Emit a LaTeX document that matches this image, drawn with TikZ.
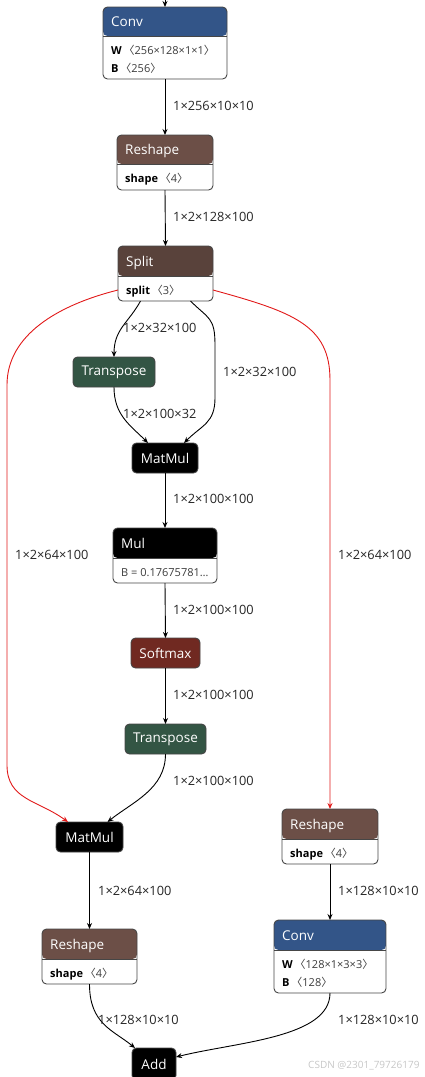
\documentclass[tikz,border=0pt]{standalone}
\usepackage{fontspec}
\setmainfont{Open Sans}
\newfontfamily\cjk{Noto Sans CJK SC}
\usetikzlibrary{arrows.meta,calc}
\definecolor{clayer}{RGB}{51,85,136}
\definecolor{cshape}{RGB}{108,79,71}
\definecolor{ctensor}{RGB}{89,66,59}
\definecolor{ctrans}{RGB}{51,85,68}
\definecolor{cact}{RGB}{112,41,33}
\definecolor{cline}{RGB}{70,70,70}
\definecolor{cred}{RGB}{225,25,25}
\definecolor{cval}{RGB}{60,60,60}
\newcommand\tfnt{\fontsize{13.5}{15}\selectfont}
\newcommand\lfnt{\fontsize{12.8}{14}\selectfont}
\newcommand\bfnt{\fontsize{11}{12}\selectfont}
\newcommand\lb{{\cjk 〈}}
\newcommand\rb{{\cjk 〉}}
\tikzset{
  box/.style={draw=cline, line width=0.9pt, rounded corners=4.5pt, inner sep=0pt, outer sep=0pt, anchor=north west},
  single/.style={box, text=white, font=\tfnt},
  edge/.style={line width=0.9pt, draw=black, -{Stealth[length=6pt,width=5pt]}},
  redge/.style={line width=0.9pt, draw=cred, -{Stealth[length=6pt,width=5pt]}},
  lab/.style={anchor=west, font=\lfnt, text=black!85, inner sep=0pt},
  btxt/.style={anchor=base west, inner sep=0pt, font=\bfnt, text=cval},
}
\newcommand\twobox[9]{%
  \node[box, fill=white, minimum width=#3pt, minimum height=#4pt,
    path picture={\fill[#6] ([yshift=1pt]path picture bounding box.north west) rectangle ([yshift=-#5pt]path picture bounding box.north east);}] (#1) at #2 {};
  \draw[cline, line width=0.9pt] ([yshift=-#5pt]#1.north west) -- ([yshift=-#5pt]#1.north east);
  \node[anchor=base west, inner sep=0pt, text=white, font=\tfnt] (#1-t) at ($(#1.north west)+(8,#5/2+5)$) {#7};
  \node[btxt] (#1-a) at ($(#1.north west)+(8,#5+18)$) {#8};
  \node[btxt] (#1-b) at ($(#1.north west)+(8,#5+36)$) {#9};
}
\begin{document}
\begin{tikzpicture}[x=1pt,y=-1pt]
\useasboundingbox (0,0) rectangle (425,1077);
% two-part nodes
\twobox{conv}{(103,7)}{124}{72}{29}{clayer}{Conv}{\textbf{\color{black}W}\,\lb256×128×1×1\rb}{\textbf{\color{black}B}\,\lb256\rb}
\twobox{r1}{(117,135)}{96}{55}{29}{cshape}{Reshape}{\textbf{\color{black}shape}\,\lb4\rb}{}
\twobox{split}{(118,246)}{95}{55}{30}{ctensor}{Split}{\textbf{\color{black}split}\,\lb3\rb}{}
\twobox{mul}{(113,528)}{104}{55}{30}{black}{Mul}{B = 0.17675781…}{}
\twobox{rr}{(282,809)}{96}{55}{30}{cshape}{Reshape}{\textbf{\color{black}shape}\,\lb4\rb}{}
\twobox{rl}{(42,929)}{95}{55}{30}{cshape}{Reshape}{\textbf{\color{black}shape}\,\lb4\rb}{}
\twobox{cr}{(274,920)}{112}{73}{30}{clayer}{Conv}{\textbf{\color{black}W}\,\lb128×1×3×3\rb}{\textbf{\color{black}B}\,\lb128\rb}
% single nodes
\node[single, fill=ctrans, minimum width=82pt, minimum height=30pt] (t1) at (73,357) {Transpose};
\node[single, fill=black, minimum width=66pt, minimum height=30pt] (mm1) at (132,443) {MatMul};
\node[single, fill=cact, minimum width=69pt, minimum height=30pt] (sm) at (131,638) {Softmax};
\node[single, fill=ctrans, minimum width=81pt, minimum height=30pt] (t2) at (125,724) {Transpose};
\node[single, fill=black, minimum width=67pt, minimum height=30pt] (mm2) at (56,822) {MatMul};
\node[single, fill=black, minimum width=44pt, minimum height=32pt] (add) at (132,1048) {Add};
% coordinates
\coordinate (top) at (165,-2);
\coordinate (sr1) at (215,345);
\coordinate (sr2) at (215,398);
\coordinate (rl1) at (7,385);
\coordinate (rl2) at (7,765);
\coordinate (rr1) at (330,380);
% edges
\draw[edge] (top) -- (conv.north);
\draw[edge] (conv.south) -- (r1.north);
\draw[edge] (r1.south) -- (split.north);
\draw[edge] ($(split.south)+(-25,0)$) .. controls +(-12,22) and +(0,-28) .. (t1.north);
\draw[edge] ($(split.south)+(25,0)$) .. controls +(18,18) and +(0,-28) .. (sr1) -- (sr2) .. controls +(0,25) and +(18,-18) .. ($(mm1.north)+(19,0)$);
\draw[edge] (t1.south) .. controls +(0,28) and +(-18,-18) .. ($(mm1.north)+(-17,0)$);
\draw[edge] (mm1.south) -- (mul.north);
\draw[edge] (mul.south) -- (sm.north);
\draw[edge] (sm.south) -- (t2.north);
\draw[edge] (t2.south) .. controls +(0,35) and +(25,-20) .. ($(mm2.north)+(18,0)$);
\draw[redge] ($(split.south west)+(0,-11)$) .. controls +(-60,15) and +(0,-50) .. (rl1) -- (rl2) .. controls +(0,35) and +(-30,-22) .. ($(mm2.north west)+(12,0)$);
\draw[redge] ($(split.south east)+(0,-11)$) .. controls +(80,22) and +(0,-55) .. (rr1) -- (rr.north);
\draw[edge] (mm2.south) -- (rl.north);
\draw[edge] (rr.south) -- (cr.north);
\draw[edge] (rl.south) .. controls +(0,40) and +(-22,-18) .. ($(add.north west)+(3,0)$);
\draw[edge] (cr.south) .. controls +(0,45) and +(60,-15) .. ($(add.east)+(0,-7)$);
% labels
\node[lab] (l1) at (173,106) {1×256×10×10};
\node[lab] (l2) at (173,217) {1×2×128×100};
\node[lab] (l3) at (123,328) {1×2×32×100};
\node[lab] (l4) at (223,372) {1×2×32×100};
\node[lab] (l5) at (123,414) {1×2×100×32};
\node[lab] (l6) at (173,499) {1×2×100×100};
\node[lab] (l7) at (173,610) {1×2×100×100};
\node[lab] (l8) at (173,695) {1×2×100×100};
\node[lab] (l9) at (173,781) {1×2×100×100};
\node[lab] (l10) at (15,555) {1×2×64×100};
\node[lab] (l11) at (338,555) {1×2×64×100};
\node[lab] (l12) at (98,891) {1×2×64×100};
\node[lab] (l13) at (338,891) {1×128×10×10};
\node[lab] (l14) at (98,1020) {1×128×10×10};
\node[lab] (l15) at (338,1020) {1×128×10×10};
\node[anchor=west, inner sep=0pt, font=\fontsize{10}{12}\selectfont, text=black!22] (wm) at (308,1066) {CSDN @2301\_79726179};
\end{tikzpicture}
\end{document}
